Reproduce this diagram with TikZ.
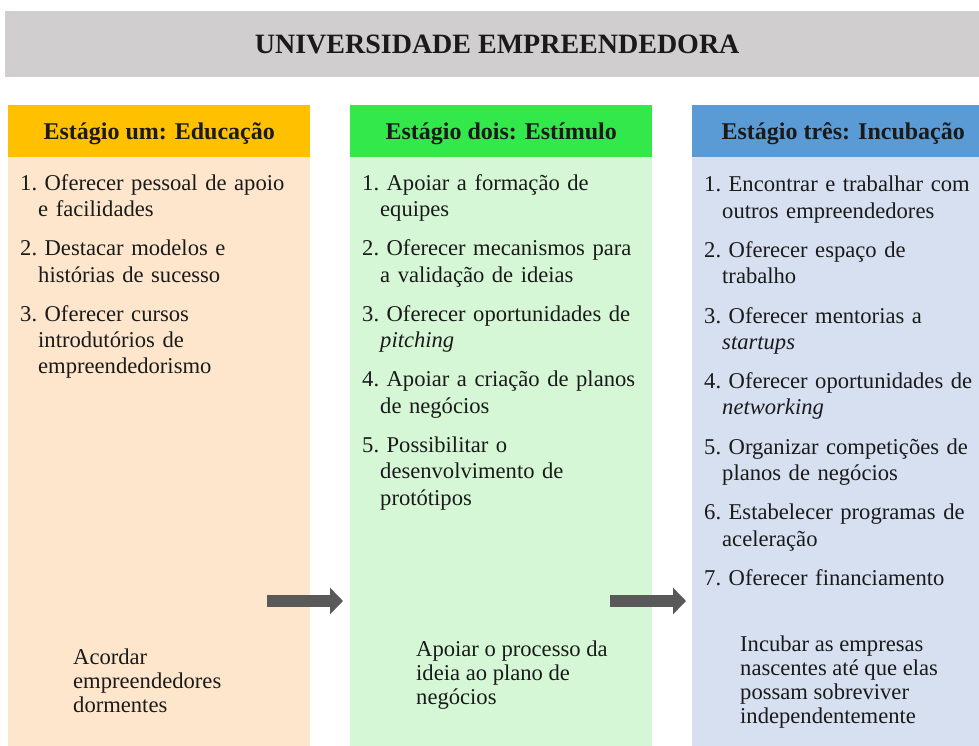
\documentclass[tikz,border=0pt]{standalone}
\usepackage{fontspec}
\setmainfont{Liberation Serif}
\usetikzlibrary{arrows.meta}
\tikzset{>=latex}

\definecolor{titlegray}{HTML}{D0CECE}
\definecolor{eduhead}{HTML}{FFC000}
\definecolor{edubody}{HTML}{FDE6CC}
\definecolor{stimhead}{HTML}{33E84A}
\definecolor{stimbody}{HTML}{D5F7D6}
\definecolor{incuhead}{HTML}{5B9BD5}
\definecolor{incubody}{HTML}{D6E0F1}
\definecolor{arrowgray}{HTML}{595959}
\definecolor{ink}{HTML}{1A1A1A}

\tikzset{
  stagehead/.style={anchor=north west, inner sep=0, minimum width=302, minimum height=52,
    text depth=0pt, text=ink, font=\fontsize{24}{28}\selectfont\bfseries},
  stagebody/.style={anchor=north west, inner sep=0, minimum width=302, minimum height=600},
  listtext/.style={anchor=north west, inner sep=0, text width=285, align=left, text=ink,
    font=\fontsize{22.6}{26.3}\selectfont\frenchspacing\setlength{\parskip}{13pt}},
  goaltext/.style={anchor=north west, inner sep=0, align=left, text=ink,
    font=\fontsize{22.6}{24}\selectfont},
  blockarrow/.style={line width=12pt, arrowgray, -{Triangle[length=13pt,width=26pt]}}
}

\newcommand{\stageitem}[1]{\hangindent=18pt\hangafter=1\relax #1\par}

\begin{document}
\begin{tikzpicture}[x=1pt,y=-1pt]
  \useasboundingbox (0,0) rectangle (979,745);

  % Title
  \node[anchor=north west, inner sep=0, minimum width=984, minimum height=66, fill=titlegray,
    text=ink, font=\fontsize{28}{32}\selectfont\bfseries] (title) at (5,11) {UNIVERSIDADE EMPREENDEDORA};

  % Column backgrounds
  \node[stagebody, fill=edubody] (body1) at (8,157) {};
  \node[stagebody, fill=stimbody] (body2) at (350,157) {};
  \node[stagebody, fill=incubody] (body3) at (692,157) {};

  % Column headers
  \node[stagehead, fill=eduhead] (head1) at (8,105) {Estágio um: Educação};
  \node[stagehead, fill=stimhead] (head2) at (350,105) {Estágio dois: Estímulo};
  \node[stagehead, fill=incuhead] (head3) at (692,105) {Estágio três: Incubação};

  % Stage one
  \node[listtext] (list1) at (20,174) {%
    \stageitem{1. Oferecer pessoal de apoio\newline e facilidades}
    \stageitem{2. Destacar modelos e\newline histórias de sucesso}
    \stageitem{3. Oferecer cursos\newline introdutórios de\newline empreendedorismo}};
  \node[goaltext] (goal1) at (73,649) {Acordar\\empreendedores\\dormentes};

  % Stage two
  \node[listtext] (list2) at (362,174) {%
    \stageitem{1. Apoiar a formação de\newline equipes}
    \stageitem{2. Oferecer mecanismos para\newline a validação de ideias}
    \stageitem{3. Oferecer oportunidades de\newline \textit{pitching}}
    \stageitem{4. Apoiar a criação de planos\newline de negócios}
    \stageitem{5. Possibilitar o\newline desenvolvimento de\newline protótipos}};
  \node[goaltext] (goal2) at (416,641) {Apoiar o processo da\\ideia ao plano de\\negócios};

  % Stage three
  \node[listtext] (list3) at (704,176) {%
    \stageitem{1. Encontrar e trabalhar com\newline outros empreendedores}
    \stageitem{2. Oferecer espaço de\newline trabalho}
    \stageitem{3. Oferecer mentorias a\newline \textit{startups}}
    \stageitem{4. Oferecer oportunidades de\newline \textit{networking}}
    \stageitem{5. Organizar competições de\newline planos de negócios}
    \stageitem{6. Estabelecer programas de\newline aceleração}
    \stageitem{7. Oferecer financiamento}};
  \node[goaltext] (goal3) at (740,636) {Incubar as empresas\\nascentes até que elas\\possam sobreviver\\independentemente};

  % Arrows between stages
  \coordinate (step1out) at (267,601);
  \coordinate (step2in) at (343,601);
  \coordinate (step2out) at (610,601);
  \coordinate (step3in) at (686,601);
  \draw[blockarrow] (step1out) -- (step2in);
  \draw[blockarrow] (step2out) -- (step3in);
\end{tikzpicture}
\end{document}
